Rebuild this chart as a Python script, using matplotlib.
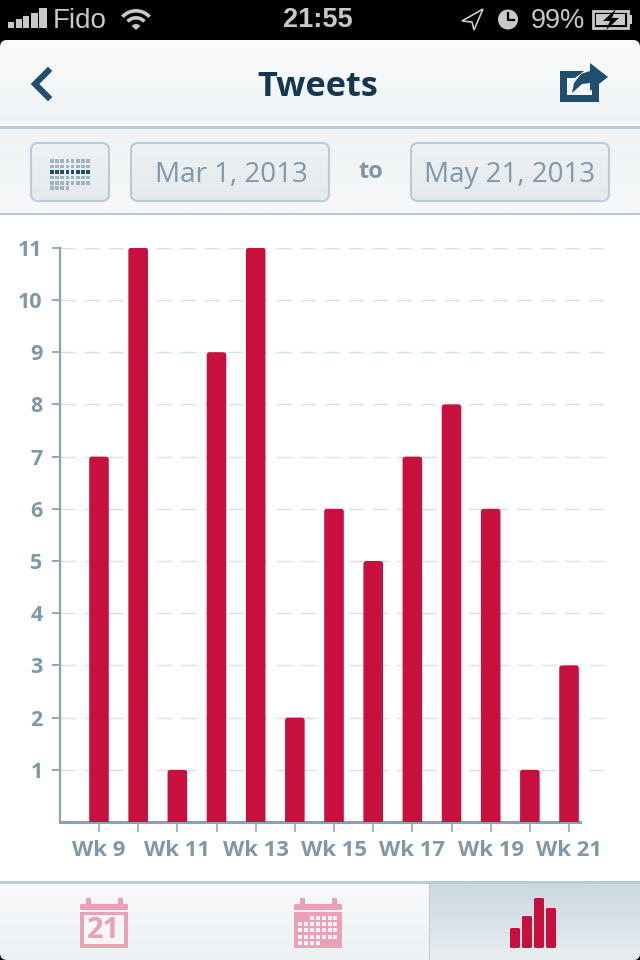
import numpy as np
import matplotlib
matplotlib.use("Agg")
import matplotlib.pyplot as plt
from matplotlib.patches import FancyBboxPatch, Rectangle, Polygon, Circle, Wedge

# data
weeks = ["Wk 9", "", "Wk 11", "", "Wk 13", "", "Wk 15", "", "Wk 17", "", "Wk 19", "", "Wk 21"]
tweets = [7, 11, 1, 9, 11, 2, 6, 5, 7, 8, 6, 1, 3]
y_ticks = [1, 2, 3, 4, 5, 6, 7, 8, 9, 10, 11]
title = "Tweets"
date_from = "Mar 1, 2013"
date_to = "May 21, 2013"

RED = "#c8103f"
PINK = "#eba0b5"
AXIS = "#8aa2b1"
LABEL = "#7f98a9"
NAVY = "#1f4e6e"
LINE = "#b8cbd6"
FONT = "Open Sans"

fig = plt.figure(figsize=(6.4, 9.6), dpi=100, facecolor="black")

# ---- chrome, in pixel coordinates
bg = fig.add_axes([0, 0, 1, 1])
bg.set_xlim(0, 640)
bg.set_ylim(960, 0)
bg.axis("off")


def gradient(x0, x1, y0, y1, c0, c1, z=1):
    a = np.array(matplotlib.colors.to_rgb(c0))
    b = np.array(matplotlib.colors.to_rgb(c1))
    t = np.linspace(0, 1, 64)[:, None, None]
    img = a[None, None, :] * (1 - t) + b[None, None, :] * t
    return bg.imshow(img, extent=[x0, x1, y1, y0], aspect="auto", zorder=z, interpolation="bilinear")


def rect(x0, y0, x1, y1, color, z=3):
    bg.add_patch(Rectangle((x0, y0), x1 - x0, y1 - y0, fc=color, ec="none", zorder=z))


def button(x0, x1):
    im = gradient(x0, x1, 142, 202, "#eef2f4", "#e4e9ed", z=3)
    box = FancyBboxPatch((x0 + 1, 143), x1 - x0 - 2, 58, boxstyle="round,pad=0,rounding_size=7",
                         fc="none", ec=LINE, lw=1.5, zorder=4)
    bg.add_patch(box)
    clip = FancyBboxPatch((x0 + 1, 143), x1 - x0 - 2, 58, boxstyle="round,pad=0,rounding_size=7",
                          fc="none", ec="none", transform=bg.transData)
    bg.add_patch(clip)
    im.set_clip_path(clip)


# header
head = gradient(0, 640, 40, 125, "#fbfcfc", "#eff3f5")
head_clip = FancyBboxPatch((0, 40), 640, 200, boxstyle="round,pad=0,rounding_size=7", fc="none", ec="none")
bg.add_patch(head_clip)
head.set_clip_path(head_clip)
rect(0, 124, 640, 126, "#ffffff")
rect(0, 126, 640, 129, LINE)
gradient(0, 640, 129, 213, "#f0f3f5", "#f6f8f9")
rect(0, 213, 640, 215, LINE)
rect(0, 215, 640, 882, "#ffffff", z=1)

# toolbar
button(30, 110)
button(130, 330)
button(410, 610)
for row, yy in enumerate([161, 166.5, 172, 177.5, 183, 188]):
    n = 8 if row < 5 else 4
    for col in range(n):
        c = NAVY if row == 2 else "#9fb4c1"
        rect(50 + col * 5.2, yy - 2, 53.5 + col * 5.2, yy + 1.5, c, z=5)
bg.text(231, 175, date_from, family=FONT, fontsize=20, color=LABEL, ha="center", va="center", zorder=5)
bg.text(370.5, 172, "to", family=FONT, fontsize=17, fontweight="bold", color=LABEL, ha="center", va="center", zorder=5)
bg.text(510, 175, date_to, family=FONT, fontsize=20, color=LABEL, ha="center", va="center", zorder=5)

# title + nav icons
bg.text(318, 87, title, family=FONT, fontsize=24.7, fontweight="bold", color="#14384f", ha="center", va="center", zorder=5)
bg.plot([48, 35, 48], [71, 84, 97], color=NAVY, lw=4.4, solid_joinstyle="miter", zorder=5)
bg.add_patch(Polygon([(560, 71), (584, 71), (575, 78), (567, 78), (567, 95), (592, 95), (592, 88), (599, 82),
                      (599, 102), (560, 102)], fc=NAVY, ec="none", zorder=5))
bg.add_patch(Polygon([(590, 63), (608, 77), (590, 91), (590, 83), (582, 84), (572, 93), (574, 83),
                      (581, 74), (590, 71)], fc=NAVY, ec="none", zorder=5))

# status bar
GREY = "#c9c9c9"
for i, (h, w) in enumerate(zip([6, 9, 12, 15, 20], [6, 6, 6, 7, 8])):
    rect(8 + i * 7.7, 28 - h, 8 + i * 7.7 + w, 28, GREY, z=5)
bg.text(53, 20.5, "Fido", family="Liberation Sans", fontsize=20, color=GREY, ha="left", va="center", zorder=5)
bg.text(318, 20, "21:55", family="Liberation Sans", fontsize=19.5, color=GREY, fontweight="bold", ha="center", va="center", zorder=5)
bg.text(531, 20.5, "99%", family="Liberation Sans", fontsize=19.5, color=GREY, ha="left", va="center", zorder=5)
for r in [20, 13]:
    bg.add_patch(Wedge((136, 29), r, 222, 318, width=3.6, fc=GREY, ec="none", zorder=5))
bg.add_patch(Wedge((136, 30), 6, 222, 318, fc=GREY, ec="none", zorder=5))
bg.add_patch(Polygon([(483, 9), (462, 21), (472, 22), (474, 30)], fc="none", ec=GREY, lw=1.2, zorder=5))
bg.add_patch(Circle((508, 19.5), 10, fc=GREY, ec="none", zorder=5))
bg.plot([508, 508, 514], [13, 20, 20], color="black", lw=1.6, zorder=6)
bg.add_patch(Rectangle((593, 11), 35, 17, fc="none", ec=GREY, lw=2, zorder=5))
rect(629, 15, 632, 24, GREY, z=5)
rect(596, 14, 625, 25, GREY, z=5)
bg.add_patch(Polygon([(616, 9), (603, 21), (610, 21), (606, 30), (619, 18), (612, 18)], fc="black", ec="none", zorder=6))

# tab bar
rect(0, 881, 640, 884, LINE)
tabs = gradient(0, 640, 884, 960, "#f8f9fa", "#edf1f4")
tab_clip = FancyBboxPatch((0, 700), 640, 260, boxstyle="round,pad=0,rounding_size=7", fc="none", ec="none")
bg.add_patch(tab_clip)
tabs.set_clip_path(tab_clip)
sel = gradient(429, 640, 884, 960, "#cbd8e1", "#e8edf0", z=2)
sel.set_clip_path(tab_clip)
rect(428.5, 884, 429.5, 960, "#bccdd7")


def calendar(x0):
    bg.add_patch(FancyBboxPatch((x0, 904), 48, 44, boxstyle="round,pad=0,rounding_size=1.5", fc=PINK, ec="none", zorder=5))
    rect(x0 + 6, 898, x0 + 11, 905, PINK, z=5)
    rect(x0 + 38, 898, x0 + 43, 905, PINK, z=5)
    rect(x0, 910, x0 + 48, 912, "#f4f6f7", z=6)


calendar(80)
rect(84, 915, 124, 944, "#f4f6f7", z=6)
bg.text(104, 930, "21", family=FONT, fontsize=21, fontweight="bold", color=PINK, ha="center", va="center", zorder=7)
calendar(294)
for r in range(5):
    for c in range(7):
        if (r == 0 and c < 2) or (r == 4 and c > 3):
            continue
        xx = 298 + c * 5.9
        yy = 916 + r * 6.2
        rect(xx, yy, xx + 4, yy + 4, "#f4f6f7", z=6)

for x0, top in zip([510, 522, 534, 546], [928, 916, 898, 908]):
    bg.add_patch(FancyBboxPatch((x0, top), 10, 948 - top, boxstyle="round,pad=0,rounding_size=1.5", fc=RED, ec="none", zorder=5))

# ---- the chart itself
# plot area runs from the y axis (x=60) to the end of the gridlines (x=605), zero at y=822
ax = fig.add_axes([60 / 640, (960 - 822) / 960, 545 / 640, 574.2 / 960], facecolor="none")
ax.set_zorder(5)
x = np.arange(len(tweets))
step_x = 39.17
ax.set_xlim(-39 / step_x, (605 - 99) / step_x)
ax.set_ylim(0, 11)

bars = ax.bar(x, tweets, width=0.5, color=RED, zorder=3)
for b, v in zip(bars, tweets):
    b.set_visible(False)
    ax.add_patch(FancyBboxPatch((b.get_x(), -0.2), b.get_width(), v + 0.2,
                                boxstyle="round,pad=0,rounding_size=0.07", mutation_aspect=0.75,
                                fc=RED, ec="none", zorder=3))

ax.yaxis.grid(True, color="#d6e1e7", lw=1.0, linestyle=(0, (10.8, 6.5)))
ax.xaxis.grid(False)
ax.set_axisbelow(True)
for s in ["top", "right", "bottom"]:
    ax.spines[s].set_visible(False)
ax.spines["left"].set_color(AXIS)
ax.spines["left"].set_linewidth(1.6)
ax.plot([ax.get_xlim()[0], x[-1] + 0.27], [0, 0], color=AXIS, lw=2.2, clip_on=False, zorder=2)

ax.set_yticks(y_ticks)
ax.set_yticklabels([str(v) for v in y_ticks], family=FONT, fontsize=15.5, fontweight="bold", color=LABEL)
ax.set_xticks(x)
ax.set_xticklabels(weeks, family=FONT, fontsize=15.8, fontweight="bold", color=LABEL)
ax.tick_params(axis="y", length=5.5, width=1.3, color=AXIS, pad=7)
ax.tick_params(axis="x", length=7, width=1.1, color=AXIS, pad=6)

fig.savefig("out.png", dpi=100, facecolor="black")
